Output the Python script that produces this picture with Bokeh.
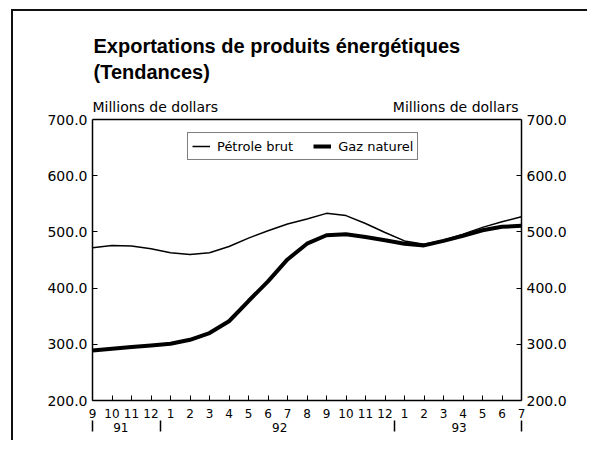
from bokeh.plotting import figure
from bokeh.models import (Range1d, LinearAxis, FixedTicker, NumeralTickFormatter,
                          Label, Legend, LegendItem, Span)
from bokeh.embed import file_html
from bokeh.resources import INLINE

# ---- data ----
month_labels = ["9", "10", "11", "12", "1", "2", "3", "4", "5", "6", "7", "8",
                "9", "10", "11", "12", "1", "2", "3", "4", "5", "6", "7"]
petrole_brut = [472, 476, 475, 470, 463, 460, 463, 474, 489, 502, 514, 523,
                533, 529, 515, 499, 484, 478, 485, 496, 508, 518, 527]
gaz_naturel = [289, 292, 295, 298, 301, 308, 320, 341, 377, 412, 451, 479,
               494, 496, 491, 485, 479, 476, 484, 493, 503, 509, 511]
year_labels = ["91", "92", "93"]
year_label_pos = [1.45, 9.6, 18.8]
year_marks = [0, 3.5, 15.5, 22]
y_ticks = [200, 300, 400, 500, 600, 700]

idx = list(range(len(month_labels)))

FW = 429
PLOT_H = 281            # height of the 200..700 box
EXTRA_TOP = 98          # room above the box (inside frame) for titles
FH = PLOT_H + EXTRA_TOP
X0, X1, Y0, Y1 = 0, 22, 200, 700
px_y = PLOT_H / (Y1 - Y0)
Y_TOP = Y1 + EXTRA_TOP / px_y

SMALL = "DejaVu Sans"

p = figure(output_backend="svg", toolbar_location=None,
           frame_width=FW, frame_height=FH,
           min_border_left=79, min_border_right=68,
           min_border_top=10, min_border_bottom=42,
           x_range=Range1d(X0, X1), y_range=Range1d(Y0, Y_TOP),
           background_fill_color="white", border_fill_color="white")
p.margin = (11, 0, 0, 13)
p.styles = {"box-shadow": "-2px -2px 0px 0px #111", "overflow": "hidden"}

p.grid.visible = False
p.outline_line_color = None

# top edge of the chart box
p.add_layout(Span(location=Y1, dimension="width", line_color="black",
                  line_width=1.5))

# x axis (months)
xa = p.xaxis[0]
xa.ticker = FixedTicker(ticks=idx)
xa.major_label_overrides = {i: s for i, s in zip(idx, month_labels)}
xa.major_tick_in = 5
xa.major_tick_out = 0
xa.minor_tick_line_color = None
xa.axis_line_width = 1.5
xa.major_label_standoff = 8
xa.major_label_text_font = SMALL
xa.major_label_text_font_size = "12px"
xa.major_label_text_color = "black"

# second x axis (years)
xa2 = LinearAxis(ticker=FixedTicker(ticks=year_label_pos, minor_ticks=year_marks))
xa2.major_label_overrides = {v: s for v, s in zip(year_label_pos, year_labels)}
xa2.axis_line_color = None
xa2.major_tick_line_color = None
xa2.major_tick_in = 0
xa2.major_tick_out = 0
xa2.minor_tick_in = 0
xa2.minor_tick_out = 11
xa2.minor_tick_line_color = "black"
xa2.minor_tick_line_width = 1.5
xa2.major_label_standoff = -9
xa2.major_label_text_font = SMALL
xa2.major_label_text_font_size = "12px"
xa2.major_label_text_color = "black"
p.add_layout(xa2, "below")

# left y axis
ya = p.yaxis[0]
ya.ticker = FixedTicker(ticks=y_ticks)
ya.formatter = NumeralTickFormatter(format="0.0")
ya.bounds = (Y0, Y1)
ya.major_tick_in = 5
ya.major_tick_out = 0
ya.minor_tick_line_color = None
ya.axis_line_width = 1.5
ya.major_label_standoff = 5
ya.major_label_text_font = SMALL
ya.major_label_text_font_size = "14px"
ya.major_label_text_color = "black"

# right y axis
ra = LinearAxis(ticker=FixedTicker(ticks=y_ticks),
                formatter=NumeralTickFormatter(format="0.0"), bounds=(Y0, Y1))
ra.major_tick_in = 5
ra.major_tick_out = 0
ra.minor_tick_line_color = None
ra.axis_line_width = 1.5
ra.major_label_standoff = 5
ra.major_label_text_font = SMALL
ra.major_label_text_font_size = "14px"
ra.major_label_text_color = "black"
p.add_layout(ra, "right")

# lines
r1 = p.line(idx, petrole_brut, line_color="black", line_width=1.5)
r2 = p.line(idx, gaz_naturel, line_color="black", line_width=4)

legend = Legend(items=[LegendItem(label="Pétrole brut", renderers=[r1]),
                       LegendItem(label="Gaz naturel", renderers=[r2])],
                orientation="horizontal", location=(95, 240),
                border_line_color="black", border_line_width=1.2,
                padding=4, margin=0, spacing=20, label_standoff=7,
                glyph_width=18, glyph_height=18, label_height=18,
                label_text_font=SMALL, label_text_font_size="13px",
                label_text_color="black", background_fill_alpha=1.0)
p.add_layout(legend, "center")


def ypx(page_above_box):
    """data y for a text baseline given pixels above the box top"""
    return Y1 + page_above_box / px_y


p.add_layout(Label(x=X0, y=ypx(74), text="Exportations de produits énergétiques",
                   text_font="Liberation Sans", text_font_style="bold",
                   text_font_size="20px", text_baseline="alphabetic",
                   text_color="black", x_offset=1))
p.add_layout(Label(x=X0, y=ypx(48), text="(Tendances)",
                   text_font="Liberation Sans", text_font_style="bold",
                   text_font_size="20px", text_baseline="alphabetic",
                   text_color="black", x_offset=1))
p.add_layout(Label(x=X0, y=ypx(13), text="Millions de dollars",
                   text_font=SMALL, text_font_size="14px",
                   text_baseline="alphabetic", text_color="black", x_offset=0))
p.add_layout(Label(x=X1, y=ypx(13), text="Millions de dollars",
                   text_font=SMALL, text_font_size="14px",
                   text_align="right", text_baseline="alphabetic",
                   text_color="black", x_offset=-3))

open("out.html", "w").write(file_html(p, INLINE))
